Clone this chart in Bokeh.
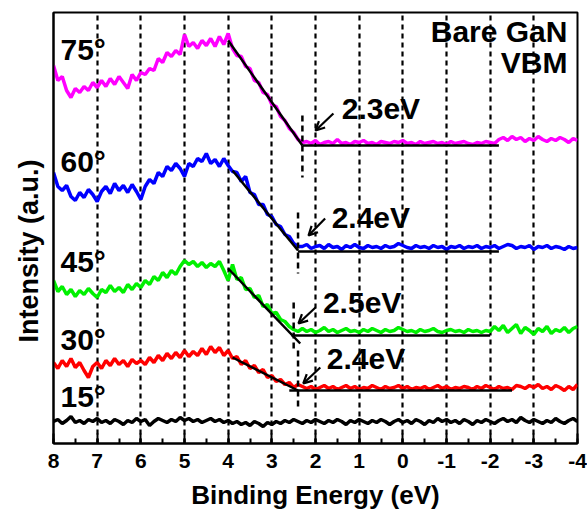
import numpy as np
from bokeh.plotting import figure
from bokeh.models import (Range1d, SingleIntervalTicker, FixedTicker, ColumnDataSource,
                          Arrow, OpenHead, Title)
from bokeh.core.properties import value
from bokeh.embed import file_html
from bokeh.resources import INLINE

# ---------------- data ----------------
energy = np.round(np.linspace(8, -4, 121), 2)   # binding energy grid (eV), 0.1 eV step

angles = ["75°", "60°", "45°", "30°", "15°"]
colors = ["#ff00ff", "#0000ff", "#00f000", "#ff0000", "#000000"]

i75 = [435,420,424,410,403,412,408,414,410,418,413,420,414,422,416,424,418,412,426,420,
       428,426,432,430,442,438,448,444,450,446,466,454,458,452,460,455,462,454,464,456,467,
       452,445,444,434,432,420,418,408,406,396,394,384,380,372,368,361,358,
       359,357,360,356,358,359,357,361,357,358,356,359,358,360,357,358,356,359,358,357,
       359,358,360,357,358,356,359,357,358,359,357,358,356,359,357,358,359,357,356,358,
       357,359,358,357,361,363,360,364,361,363,359,362,360,364,361,359,362,360,363,361,
       358,362,360]
i60 = [328,314,310,315,304,300,308,303,311,306,299,309,314,307,317,310,315,308,316,309,
       301,314,321,317,328,324,334,330,337,332,324,337,334,342,339,347,337,341,334,342,335,
       329,328,319,324,308,306,296,296,286,284,276,274,266,264,257,254,254,
       256,252,254,255,252,256,253,254,251,255,253,256,253,252,255,253,254,252,255,253,
       254,257,255,253,252,255,253,254,252,255,253,254,251,254,253,255,252,254,253,255,
       252,254,253,255,252,254,256,255,252,254,253,255,251,254,253,255,252,254,253,251,
       254,252,253]
i45 = [220,209,214,206,211,204,210,206,212,207,203,211,208,215,209,213,208,216,211,217,
       213,220,216,224,220,228,223,230,226,234,240,236,239,234,238,233,237,234,239,230,220,
       236,221,223,211,212,203,205,194,196,187,188,181,179,174,171,169,172,
       169,171,168,170,173,169,171,168,170,172,169,170,168,171,169,172,170,168,171,169,
       170,173,171,169,170,168,171,169,170,172,169,168,170,171,169,170,168,171,169,170,
       168,170,169,174,170,175,168,172,176,167,173,170,166,172,169,174,167,171,169,173,
       168,172,174]
i30 = [138,132,140,134,142,133,138,130,123,134,138,132,140,135,142,136,140,134,141,137,
       140,136,143,138,145,140,147,142,148,143,150,144,149,145,152,146,154,148,153,145,150,
       142,144,136,140,132,135,128,131,123,125,119,121,116,118,113,116,114,
       112,114,111,113,115,112,114,111,113,115,112,114,111,113,112,115,113,111,114,112,
       113,115,112,114,111,113,112,114,111,113,115,112,114,111,113,112,114,113,111,114,
       112,115,113,111,114,112,113,111,115,114,112,115,113,116,112,114,111,115,113,110,
       114,111,116]
i15 = [79,81,77,80,84,78,80,77,81,79,82,78,80,77,81,79,76,80,78,82,
       79,81,75,79,82,80,78,81,79,83,80,82,79,81,78,80,82,79,81,78,80,
       77,79,76,78,75,79,77,74,78,76,79,77,80,78,81,79,77,
       80,78,81,79,77,80,78,81,79,76,80,78,81,79,77,80,78,81,79,76,
       79,81,78,80,77,81,79,76,80,78,82,79,81,78,80,77,81,79,76,80,
       78,81,79,77,80,82,79,81,78,83,80,78,81,79,77,80,78,82,79,77,
       80,82,79]
spectra = [i75, i60, i45, i30, i15]

# linear fits of the leading edge: [E_start, I_start, E_end, I_end]
edge_fits = [[4.0, 460, 2.3, 355], [3.9, 330, 2.4, 250], [4.0, 232, 2.35, 157], [3.9, 143, 2.4, 110]]
# flat background fits: [E_start, E_end, I_level]
bg_fits = [[2.3, -2.2, 355], [2.4, -2.2, 249], [2.55, -2.0, 165], [2.6, -2.5, 110]]
vbm = [2.3, 2.4, 2.5, 2.4]

xticks = [8, 7, 6, 5, 4, 3, 2, 1, 0, -1, -2, -3, -4]
xtick_labels = ["8", "7", "6", "5", "4", "3", "2", "1", "0", "-1", "-2", "-3", "-4"]
x_title = "Binding Energy (eV)"
y_title = "Intensity (a.u.)"

FONT = value("Liberation Sans")

# ---------------- figure ----------------
p = figure(width=587, height=514, x_range=Range1d(8, -4), y_range=Range1d(57, 488),
           output_backend="svg", toolbar_location=None,
           min_border_left=53, min_border_right=10, min_border_top=12, min_border_bottom=71)
p.background_fill_color = "white"
p.border_fill_color = "white"
p.outline_line_color = "black"
p.outline_line_width = 2
p.outline_line_alpha = 1

ax = p.xaxis[0]
ax.ticker = SingleIntervalTicker(interval=1, num_minor_ticks=2)
ax.major_label_overrides = {t: l for t, l in zip(xticks, xtick_labels)}
ax.axis_line_width = 2
ax.major_tick_in = 10
ax.major_tick_out = 0
ax.minor_tick_in = 5
ax.minor_tick_out = 0
ax.major_tick_line_width = 2
ax.minor_tick_line_width = 2
ax.major_label_text_font = "Liberation Sans"
ax.major_label_text_font_style = "bold"
ax.major_label_text_font_size = "21px"
ax.major_label_text_color = "black"
ax.major_label_standoff = 10
ax.axis_label = x_title
ax.axis_label_text_font = "Liberation Sans"
ax.axis_label_text_font_style = "bold"
ax.axis_label_text_font_size = "26px"
ax.axis_label_text_color = "black"
ax.axis_label_standoff = 9

ay = p.yaxis[0]
ay.ticker = FixedTicker(ticks=[])
ay.major_tick_out = 0
ay.major_tick_in = 0
ay.minor_tick_out = 0
ay.minor_tick_in = 0
ay.axis_line_width = 2

p.add_layout(Title(text=y_title, align="left", offset=101, standoff=20,
                   text_font="Liberation Sans", text_font_style="bold",
                   text_font_size="27px", text_color="black"), "left")

p.ygrid.visible = False
p.xgrid.grid_line_color = "black"
p.xgrid.grid_line_dash = "5 4"
p.xgrid.grid_line_width = 2.2

# spectra
for ys, c in zip(spectra, colors):
    p.line(energy, ys, line_color=c, line_width=3.5)

# fits
for (e0, i0, e1, i1) in edge_fits:
    p.line([e0, e1], [i0, i1], line_color="black", line_width=2.5)
for (e0, e1, lvl) in bg_fits:
    p.line([e0, e1], [lvl, lvl], line_color="black", line_width=2.5)

# VBM markers (short dashed verticals)
marker_spans = [(385, 323), (288, 227), (198, 150), (150, 90)]
for e, (ya, yb) in zip(vbm, marker_spans):
    p.line([e, e], [ya, yb], line_color="black", line_width=2.5, line_dash="6 4")

# arrows + VBM labels
arrow_src = ColumnDataSource(dict(x0=[1.59, 1.78, 2.0, 1.89], y0=[387, 282, 193, 133],
                                  x1=[2.0, 2.16, 2.39, 2.28], y1=[370, 265, 177, 117]))
p.add_layout(Arrow(end=OpenHead(size=9, line_width=2.2, line_color="black"),
                   x_start="x0", y_start="y0", x_end="x1", y_end="y1",
                   line_width=2.2, line_color="black", source=arrow_src))

p.text(x=[1.40, 1.63, 1.83, 1.74], y=[392, 283, 198, 142],
       text=[f"{v}eV" for v in vbm], text_font=FONT, text_font_style="bold",
       text_font_size="30px", text_baseline="middle", text_align="left", text_color="black")

# angle labels
p.text(x=[7.84] * 5, y=[451, 339, 239, 161, 104], text=angles, text_font=FONT,
       text_font_style="bold", text_font_size="30px", text_baseline="middle",
       text_align="left", text_color="black")

# title
p.text(x=[-3.77, -3.77], y=[469, 438], text=["Bare GaN", "VBM"], text_font=FONT,
       text_font_style="bold", text_font_size="30px", text_baseline="middle",
       text_align="right", text_color="black")

open("out.html", "w").write(file_html(p, INLINE))
